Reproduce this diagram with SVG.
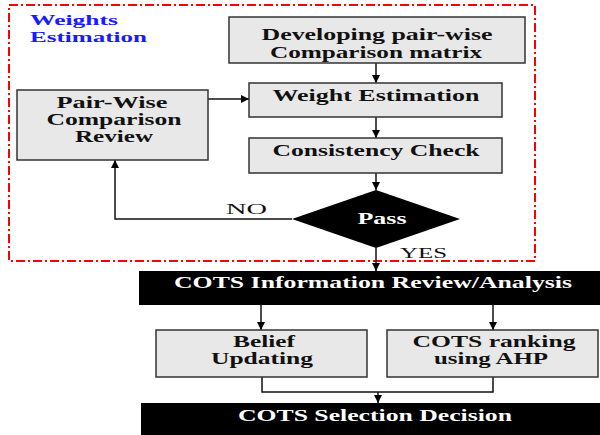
<svg xmlns="http://www.w3.org/2000/svg" width="600" height="435" viewBox="0 0 600 435">
<defs>
<marker id="ah" viewBox="0 0 10 10" refX="10" refY="5" markerWidth="8" markerHeight="8" markerUnits="userSpaceOnUse" orient="auto">
<path d="M0,0 L10,5 L0,10 z" fill="#000"/>
</marker>
<style>
.box{fill:#e8e8e8;stroke:#333;stroke-width:1.5}
.dark{fill:#000}
.t{font-family:"Liberation Serif","Times New Roman",serif;font-weight:bold;font-size:16px;fill:#111;text-anchor:middle}
.w{fill:#fff}
.lbl{font-family:"Liberation Serif","Times New Roman",serif;font-size:15px;fill:#111}
.cn{fill:none;stroke:#111;stroke-width:1.5}
.ar{marker-end:url(#ah)}
</style>
</defs>
<rect width="600" height="435" fill="#fff"/>
<rect id="frame" x="9" y="5" width="526" height="256" fill="none" stroke="#f00" stroke-width="2" stroke-dasharray="9,3,2,3"/>
<text x="30" y="25" font-family="Liberation Serif,serif" font-weight="bold" font-size="14" fill="#1a1aff" textLength="88" lengthAdjust="spacingAndGlyphs">Weights</text>
<text x="30" y="42" font-family="Liberation Serif,serif" font-weight="bold" font-size="14" fill="#1a1aff" textLength="117" lengthAdjust="spacingAndGlyphs">Estimation</text>

<g id="connectors">
<line class="cn ar" x1="376" y1="63" x2="376" y2="83"/>
<line class="cn ar" x1="376" y1="117" x2="376" y2="138"/>
<line class="cn ar" x1="376" y1="173" x2="376" y2="190"/>
<line class="cn ar" x1="376" y1="248" x2="376" y2="271"/>
<line class="cn ar" x1="208" y1="99" x2="249" y2="99"/>
<polyline class="cn ar" points="292,219 115,219 115,160"/>
<line class="cn ar" x1="261" y1="305" x2="261" y2="330"/>
<line class="cn ar" x1="493" y1="305" x2="493" y2="330"/>
<polyline class="cn" points="262,377 262,392 493,392 493,377"/>
<line class="cn ar" x1="378" y1="392" x2="378" y2="403"/>
<text class="lbl" x="226" y="214" textLength="41" lengthAdjust="spacingAndGlyphs">NO</text>
<text class="lbl" x="400" y="258" textLength="47" lengthAdjust="spacingAndGlyphs">YES</text>
</g>

<g id="developing">
<rect class="box" x="229" y="17" width="296" height="46"/>
<text class="t" x="377" y="40" textLength="231" lengthAdjust="spacingAndGlyphs">Developing pair-wise</text>
<text class="t" x="376" y="58" textLength="212" lengthAdjust="spacingAndGlyphs">Comparison matrix</text>
</g>
<g id="weight">
<rect class="box" x="249" y="83" width="253" height="34"/>
<text class="t" x="376" y="101" textLength="207" lengthAdjust="spacingAndGlyphs">Weight Estimation</text>
</g>
<g id="consistency">
<rect class="box" x="249" y="138" width="253" height="35"/>
<text class="t" x="376" y="156" textLength="207" lengthAdjust="spacingAndGlyphs">Consistency Check</text>
</g>
<g id="pairwise">
<rect class="box" x="17" y="90" width="191" height="70"/>
<text class="t" x="112" y="108" textLength="111" lengthAdjust="spacingAndGlyphs">Pair-Wise</text>
<text class="t" x="114" y="125" textLength="135" lengthAdjust="spacingAndGlyphs">Comparison</text>
<text class="t" x="114" y="142" textLength="78" lengthAdjust="spacingAndGlyphs">Review</text>
</g>
<g id="pass">
<polygon class="dark" points="292,219 376,190 460,219 376,248"/>
<text class="t w" x="382" y="224" textLength="49" lengthAdjust="spacingAndGlyphs">Pass</text>
</g>
<g id="info">
<rect class="dark" x="139" y="271" width="461" height="34"/>
<text class="t w" x="373" y="288" textLength="398" lengthAdjust="spacingAndGlyphs">COTS Information Review/Analysis</text>
</g>
<g id="belief">
<rect class="box" x="156" y="330" width="211" height="47"/>
<text class="t" x="264" y="347" textLength="62" lengthAdjust="spacingAndGlyphs">Belief</text>
<text class="t" x="262" y="364" textLength="102" lengthAdjust="spacingAndGlyphs">Updating</text>
</g>
<g id="ranking">
<rect class="box" x="387" y="330" width="211" height="47"/>
<text class="t" x="494" y="347" textLength="163" lengthAdjust="spacingAndGlyphs">COTS ranking</text>
<text class="t" x="491" y="364" textLength="114" lengthAdjust="spacingAndGlyphs">using AHP</text>
</g>
<g id="selection">
<rect class="dark" x="141" y="403" width="459" height="32"/>
<text class="t w" x="375" y="421" textLength="274" lengthAdjust="spacingAndGlyphs">COTS Selection Decision</text>
</g>
</svg>
